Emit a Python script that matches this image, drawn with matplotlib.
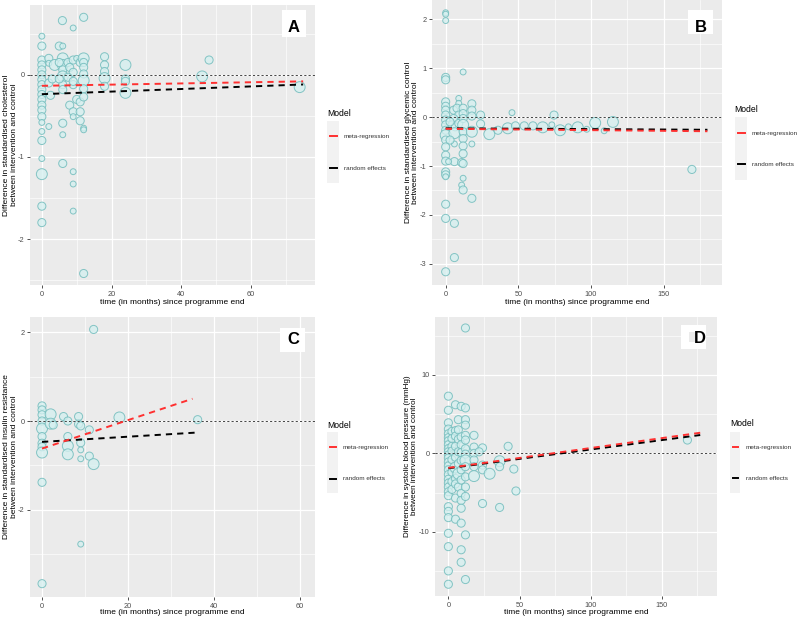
import matplotlib
matplotlib.use("Agg")
import matplotlib.pyplot as plt
from matplotlib.patches import Rectangle
from matplotlib.lines import Line2D
import numpy as np

plt.rcParams['font.family'] = ['Liberation Sans', 'DejaVu Sans']

# ---------------- data ----------------
# Panel A: cholesterol  (x = months, y = difference, w = weight class)
a_x = [0, 0, 0, 0, 0, 0, 0, 0, 0, 0, 0, 0, 0, 0, 0, 0, 0, 0, 0, 0, 0,
       2, 2, 2, 2.5, 2, 3.7, 3,
       5, 6, 5.9, 6, 6, 6, 6, 6, 6, 6, 6, 6, 5, 5,
       7.5, 8, 9, 7.5, 9, 8, 9, 9, 9, 9, 9, 9, 9, 9,
       10, 11, 10, 11, 11, 11, 12, 12, 12, 12, 12, 12, 12, 12, 12, 12, 12,
       18, 18, 18, 18, 18, 24, 24, 24, 24, 46, 48, 74]
a_y = [0.47, 0.35, 0.18, 0.12, 0.06, 0.0, -0.06, -0.12, -0.18, -0.24, -0.30, -0.37, -0.43, -0.51,
       -0.58, -0.69, -0.80, -1.02, -1.21, -1.60, -1.80,
       0.20, 0.14, -0.10, -0.25, -0.63, 0.12, -0.05,
       0.35, 0.35, 0.66, 0.20, 0.12, 0.06, -0.02, -0.12, -0.18, -0.59, -0.73, -1.08, 0.15, -0.05,
       0.15, 0.09, 0.03, -0.03, -0.12, -0.37, -0.45, -0.51, 0.57, 0.18, -0.08, -1.18, -1.33, -1.66,
       -0.30, -0.33, 0.20, 0.15, -0.45, -0.56, 0.70, 0.20, 0.15, 0.09, 0.01, -0.07, -0.17, -0.27,
       -0.65, -0.67, -2.42,
       0.22, 0.12, 0.04, -0.04, -0.14, 0.12, -0.05, -0.22, -0.08, -0.02, 0.18, -0.15]
a_w = [1, 2, 2, 2, 2, 2, 2, 2, 2, 2, 2, 2, 2, 2, 1, 1, 2, 1, 3, 2, 2,
       2, 1, 2, 2, 1, 3, 2,
       2, 1, 2, 3, 3, 2, 3, 2, 2, 2, 1, 2, 2, 2,
       2, 2, 2, 2, 2, 2, 2, 1, 1, 2, 2, 1, 1, 1,
       2, 2, 1, 2, 2, 2, 2, 3, 2, 2, 2, 3, 2, 2, 1, 1, 2,
       2, 2, 2, 3, 2, 3, 2, 3, 2, 3, 2, 3]
a_line_x = [0, 75]
a_meta_y = [-0.134, -0.08]
a_re_y = [-0.236, -0.118]

# Panel B: glycaemic control
b_x = [0]*23 + [12, 9, 9, 5.5, 7.8, 9, 5.5, 4.4, 6.6, 9, 6, 6, 6, 11,
                12, 12, 12, 12, 12, 12, 12, 12, 12, 12, 11, 12,
                18, 18, 18, 18, 18, 18, 6, 6, 2, 3, 3,
                24, 24, 30, 36, 42.7, 45.6, 48, 54, 60, 66.7, 73, 74.5, 78.7, 84.4,
                90.8, 97, 102.8, 109, 115, 169.3]
b_y = [2.13, 2.10, 1.97, 0.81, 0.76, 0.31, 0.22, 0.14, 0.04, -0.06, -0.16, -0.27, -0.37, -0.47,
       -0.61, -0.78, -0.90, -1.12, -1.18, -1.22, -1.78, -2.07, -3.16,
       0.92, 0.38, 0.28, 0.14, 0.18, 0.04, -0.03, -0.16, -0.20, -0.13, -0.33, -0.55, -0.91, -0.93,
       0.18, 0.07, -0.03, -0.16, -0.30, -0.44, -0.59, -0.75, -0.95, -1.25, -1.39, -1.49,
       0.27, 0.14, 0.02, -0.30, -0.55, -1.66, -2.17, -2.87, -0.91, -0.10, -0.47,
       0.04, -0.14, -0.35, -0.27, -0.23, 0.09, -0.18, -0.18, -0.18, -0.21, -0.16, 0.04, -0.27, -0.20,
       -0.21, -0.25, -0.12, -0.28, -0.10, -1.07]
b_w = [1, 1, 1, 2, 2, 2, 2, 2, 2, 2, 2, 2, 3, 2, 2, 2, 2, 2, 2, 1, 2, 2, 2,
       1, 1, 1, 2, 2, 2, 2, 2, 2, 2, 3, 1, 2, 2,
       2, 2, 2, 3, 2, 2, 2, 2, 2, 1, 1, 2,
       2, 2, 2, 3, 1, 2, 2, 2, 1, 2, 2,
       2, 2, 3, 2, 3, 1, 2, 2, 2, 3, 1, 2, 3, 1,
       3, 1, 3, 1, 3, 2]
b_line_x = [0, 180]
b_meta_y = [-0.24, -0.29]
b_re_y = [-0.23, -0.26]

# Panel C: insulin resistance
c_x = [0, 0, 0, 0, 0, 0, 0, 0, 0, 0, 0, 2, 2, 2.6, 5, 6, 6, 6, 6, 8.5, 8.5, 9, 9, 9, 9, 9,
       11, 11, 12, 12, 18, 36.2]
c_y = [0.34, 0.25, 0.14, 0.0, -0.17, -0.35, -0.50, -0.58, -0.71, -1.38, -3.66, 0.15, -0.06, -0.09,
       0.10, 0.0, -0.35, -0.56, -0.75, 0.10, -0.07, -0.11, -0.49, -0.65, -0.85, -2.77,
       -0.20, -0.79, 2.06, -0.97, 0.08, 0.03]
c_w = [2, 2, 2, 2, 3, 2, 2, 2, 3, 2, 2, 3, 3, 2, 2, 2, 2, 3, 3, 2, 2, 2, 2, 1, 1, 1,
       2, 2, 2, 3, 3, 2]
c_meta_x = [0, 35]
c_meta_y = [-0.62, 0.50]
c_re_x = [0, 36]
c_re_y = [-0.47, -0.26]

# Panel D: systolic blood pressure
d_x = ([0]*28 + [2.5]*8 + [5]*10 + [7]*7 + [9]*13 + [12]*15 + [18]*6 + [24]*4 +
       [29, 36, 36, 36, 42, 46, 47.5, 168, 21.6])
d_y = [7.3, 5.5, 3.9, 3.1, 2.5, 2.0, 1.6, 1.1, 0.6, 0.2, -0.2, -0.6, -1.1, -1.6, -2.1, -2.7,
       -3.3, -3.8, -4.3, -4.9, -5.4, -6.8, -7.4, -8.2, -10.2, -11.9, -15.0, -16.7,
       2.8, 1.9, 0.9, 0.3, -0.8, -2.4, -3.6, -4.6,
       6.2, 2.9, 2.2, 0.9, -0.5, -1.8, -3.2, -3.9, -5.7, -8.4,
       4.3, 3.0, 1.8, 0.2, -1.3, -2.6, -4.3,
       6.0, 2.1, 1.1, 0.1, -0.9, -2.1, -3.4, -5.1, -6.0, -7.0, -8.9, -12.3, -13.9,
       16.0, 5.8, 4.3, 3.6, 2.3, 1.7, 0.6, -0.1, -0.9, -1.7, -3.0, -4.3, -5.5, -10.4, -16.1,
       2.3, 0.8, 0.0, -0.85, -1.7, -2.9,
       0.7, -1.5, -2.1, -6.4,
       -2.6, -1.0, -1.7, -6.9, 0.9, -2.0, -4.8, 1.7, 0.2]
d_w = ([2, 2, 2, 2, 2, 2, 2, 2, 2, 2, 2, 2, 2, 2, 2, 2, 2, 2, 2, 2, 2, 2, 2, 2, 2, 2, 2, 2] +
       [2, 2, 2, 2, 2, 2, 2, 2] +
       [2, 2, 2, 2, 2, 3, 2, 2, 2, 2] +
       [2, 2, 2, 2, 2, 3, 2] +
       [2, 2, 2, 2, 2, 2, 2, 2, 2, 2, 2, 2, 2] +
       [2, 2, 2, 2, 2, 2, 2, 2, 3, 2, 2, 2, 2, 2, 2] +
       [2, 2, 2, 2, 2, 3] +
       [2, 2, 2, 2] +
       [3, 3, 2, 2, 2, 2, 2, 2, 2])
d_line_x = [0, 177]
d_meta_y = [-1.85, 2.63]
d_re_y = [-1.90, 2.34]

x_title = "time (in months) since programme end"
legend_title = "Model"
legend_labels = ["meta-regression", "random effects"]

# ---------------- figure ----------------
W, H = 800, 618
fig = plt.figure(figsize=(W / 100, H / 100), dpi=100)
fig.patch.set_facecolor('white')

SIZE = {1: 18, 2: 34, 3: 62}


def fx(px):
    return px / W


def fy(py):
    return 1 - py / H


def make_ax(l, t, r, b, xlim, ylim, xt, yt, xm, ym):
    ax = fig.add_axes([fx(l), fy(b), (r - l) / W, (b - t) / H])
    ax.set_facecolor('#EBEBEB')
    for s in ax.spines.values():
        s.set_visible(False)
    ax.set_xlim(*xlim)
    ax.set_ylim(*ylim)
    ax.set_xticks(xt)
    ax.set_yticks(yt)
    ax.set_xticks(xm, minor=True)
    ax.set_yticks(ym, minor=True)
    ax.grid(which='major', color='white', lw=0.9)
    ax.grid(which='minor', color='white', lw=0.45)
    ax.set_axisbelow(True)
    ax.tick_params(which='major', length=2.5, width=0.6, color='#333333',
                   labelsize=5.3, labelcolor='#4D4D4D', pad=1.5)
    ax.tick_params(which='minor', length=0)
    ax.set_xticklabels([str(v) for v in xt])
    ax.set_yticklabels([str(v) for v in yt])
    return ax


def draw_points(ax, x, y, w):
    ax.scatter(x, y, s=[SIZE[v] for v in w], facecolor=(0.83, 0.94, 0.94, 0.75),
               edgecolor=(0.47, 0.75, 0.75, 0.9), linewidth=0.7, zorder=2)
    ax.axhline(0, color='#444444', lw=0.7, ls=(0, (2.2, 2.2)), zorder=3)


def draw_lines(ax, mx, my, rx, ry):
    ax.plot(rx, ry, color='black', lw=1.4, ls=(0, (3.2, 2.6)), zorder=4)
    ax.plot(mx, my, color='#FF3030', lw=1.4, ls=(0, (3.2, 2.6)), zorder=5)


def labels(l, t, r, b, ylab_cx, ylab, xlab_cy, fs=6.0):
    fig.text(fx(ylab_cx), fy((t + b) / 2), ylab, rotation=90, ha='center', va='center',
             fontsize=fs, color='black', multialignment='center', linespacing=1.15)
    fig.text(fx((l + r) / 2), fy(xlab_cy), x_title, ha='center', va='center',
             fontsize=6.0, color='black')


def legend(title_x, title_y, box_l, box_t, box_r, box_b, key1_y, key2_y, text_x):
    fig.text(fx(title_x), fy(title_y), legend_title, ha='left', va='center', fontsize=6.2,
             color='black')
    fig.add_artist(Rectangle((fx(box_l), fy(box_b)), (box_r - box_l) / W, (box_b - box_t) / H,
                             transform=fig.transFigure, facecolor='#F2F2F2', edgecolor='none'))
    kx0, kx1 = box_l + 2.5, box_r - 2.5
    for ky, col, lab in [(key1_y, '#FF3030', legend_labels[0]), (key2_y, 'black', legend_labels[1])]:
        fig.add_artist(Line2D([fx(kx0), fx(kx1)], [fy(ky), fy(ky)], transform=fig.transFigure,
                              color=col, lw=1.4))
        fig.text(fx(text_x), fy(ky), lab, ha='left', va='center', fontsize=4.6, color='#333333')


def letter(bl, bt, br, bb, cx, cy, txt, patch=None):
    fig.add_artist(Rectangle((fx(bl), fy(bb)), (br - bl) / W, (bb - bt) / H,
                             transform=fig.transFigure, facecolor='white', edgecolor='none',
                             zorder=6))
    if patch is not None:
        pl, pt, pr, pb = patch
        fig.add_artist(Rectangle((fx(pl), fy(pb)), (pr - pl) / W, (pb - pt) / H,
                                 transform=fig.transFigure, facecolor='#EBEBEB',
                                 edgecolor='none', zorder=7))
    fig.text(fx(cx), fy(cy), txt, ha='center', va='center', fontsize=12, fontweight='bold',
             color='black', zorder=8)


# Panel A
axA = make_ax(30, 5, 315, 285, (-3.4, 78.4), (-2.56, 0.85), [0, 20, 40, 60], [-2, -1, 0],
              [10, 30, 50, 70], [-2.5, -1.5, -0.5, 0.5])
draw_points(axA, a_x, a_y, a_w)
draw_lines(axA, a_line_x, a_meta_y, a_line_x, a_re_y)
labels(30, 5, 315, 285, 10.5, "Difference in standardised cholesterol\nbetween intervention and control", 302)
legend(327, 113, 327, 121, 339, 183, 136, 168, 344)
letter(282, 10, 306, 37, 294, 27, "A")

# Panel B
axB = make_ax(432, 0, 722, 285, (-9.4, 190), (-3.43, 2.39), [0, 50, 100, 150],
              [-3, -2, -1, 0, 1, 2], [25, 75, 125, 175], [-2.5, -1.5, -0.5, 0.5, 1.5])
draw_points(axB, b_x, b_y, b_w)
draw_lines(axB, b_line_x, b_meta_y, b_line_x, b_re_y)
labels(432, 0, 722, 285, 412, "Difference in standardised glycemic control\nbetween intervention and control", 302)
legend(734, 109, 735, 117, 747, 180, 133, 164, 752)
letter(688, 10, 713, 34, 701, 27, "B")

# Panel C
axC = make_ax(30, 317, 315, 597, (-2.8, 63.5), (-3.96, 2.34), [0, 20, 40, 60], [-2, 0, 2],
              [10, 30, 50], [-3, -1, 1])
draw_points(axC, c_x, c_y, c_w)
draw_lines(axC, c_meta_x, c_meta_y, c_re_x, c_re_y)
labels(30, 317, 315, 597, 10.5, "Difference in standardised insulin resistance\nbetween intervention and control", 612)
legend(327, 425, 327, 432, 338, 493, 447, 479, 343)
letter(280, 328, 305, 352, 293, 339, "C")

# Panel D
axD = make_ax(435, 317, 717, 596, (-9.4, 188.8), (-18.2, 17.4), [0, 50, 100, 150], [-10, 0, 10],
              [25, 75, 125, 175], [-15, -5, 5, 15])
draw_points(axD, d_x, d_y, d_w)
draw_lines(axD, d_line_x, d_meta_y, d_line_x, d_re_y)
labels(435, 317, 717, 596, 411, "Difference in systolic blood pressure (mmHg)\nbetween intervention and control", 612,
       fs=5.85)
legend(730, 424, 730, 432, 740, 493, 447, 478, 746)
letter(681, 325, 706, 349, 700, 338, "D", patch=(689, 332, 696, 342))

fig.savefig("out.png", dpi=100)
